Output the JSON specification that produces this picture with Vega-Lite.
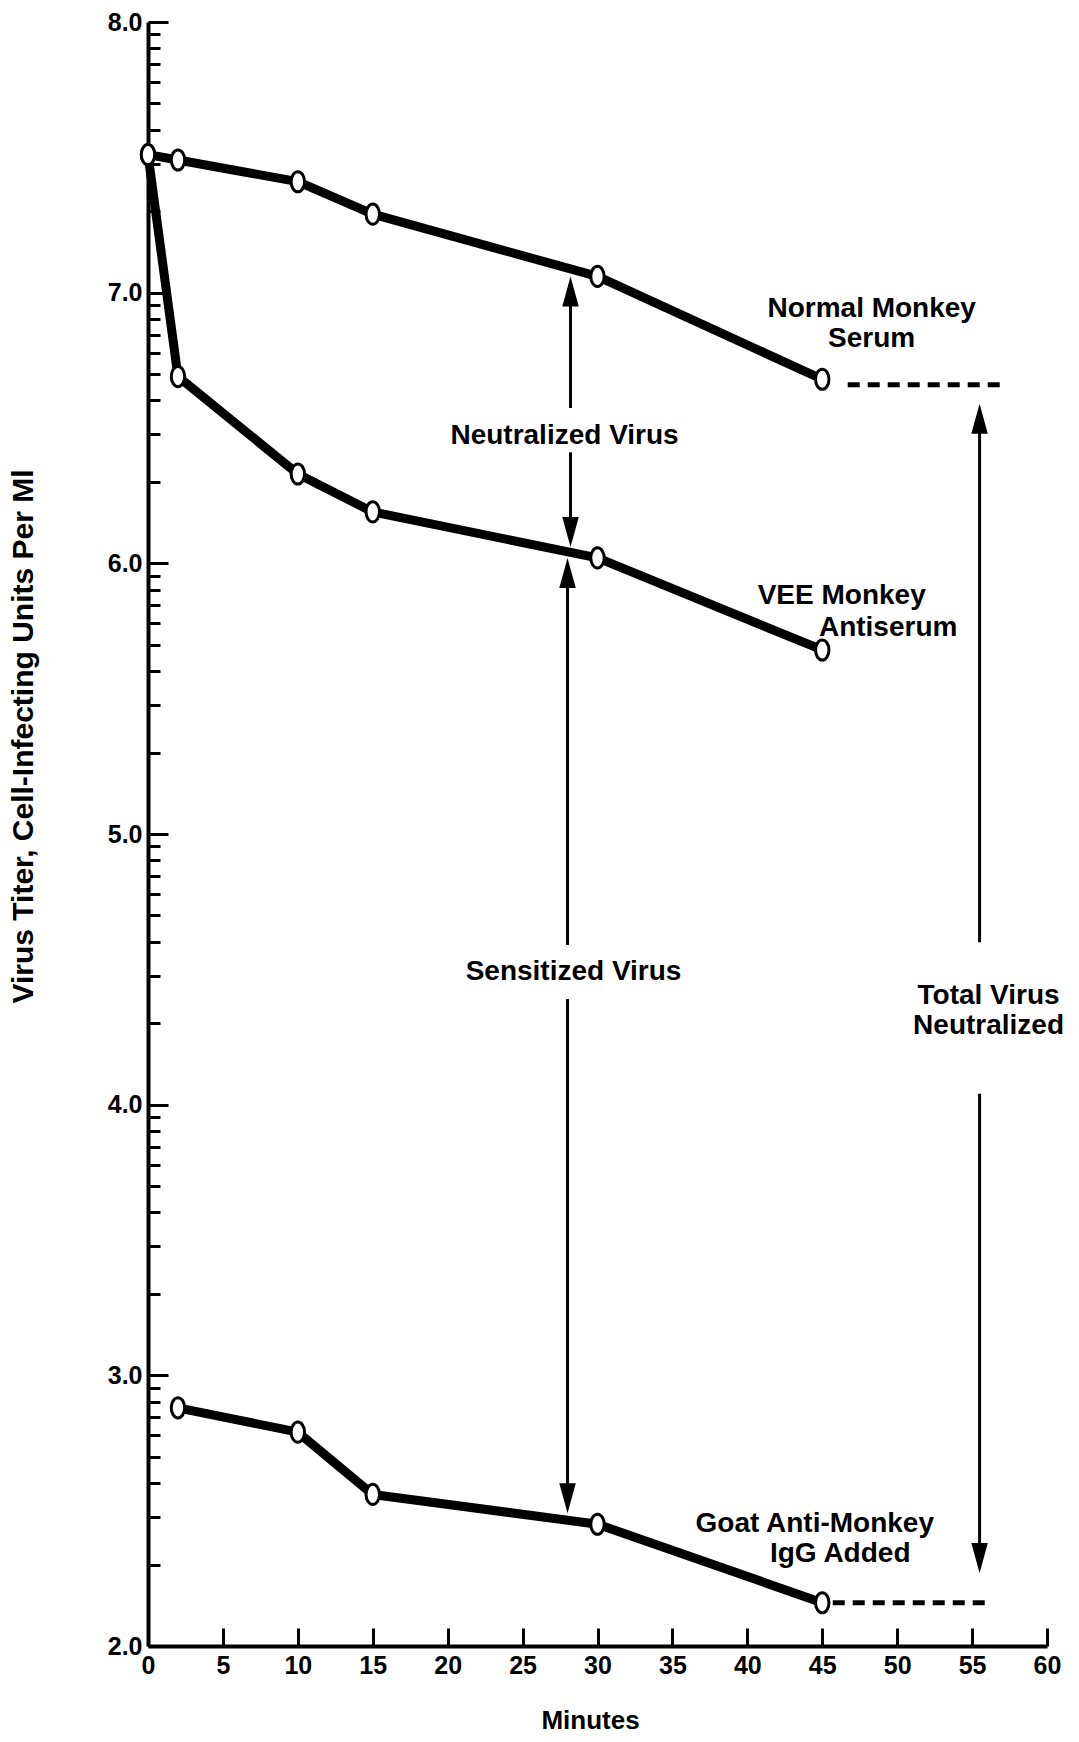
{
  "$schema": "https://vega.github.io/schema/vega-lite/v6.json",
  "autosize": {"type": "none"},
  "padding": {"left": 148, "top": 22, "right": 32, "bottom": 96},
  "width": 899,
  "height": 1624,
  "background": "white",
  "config": {"view": {"stroke": null}},
  "datasets": {
    "series": [
      {"series": "Normal Monkey Serum", "minutes": 0, "titer": 7.51},
      {"series": "Normal Monkey Serum", "minutes": 2, "titer": 7.49},
      {"series": "Normal Monkey Serum", "minutes": 10, "titer": 7.41},
      {"series": "Normal Monkey Serum", "minutes": 15, "titer": 7.29},
      {"series": "Normal Monkey Serum", "minutes": 30, "titer": 7.06},
      {"series": "Normal Monkey Serum", "minutes": 45, "titer": 6.68},
      {"series": "VEE Monkey Antiserum", "minutes": 0, "titer": 7.51},
      {"series": "VEE Monkey Antiserum", "minutes": 2, "titer": 6.69},
      {"series": "VEE Monkey Antiserum", "minutes": 10, "titer": 6.33},
      {"series": "VEE Monkey Antiserum", "minutes": 15, "titer": 6.19},
      {"series": "VEE Monkey Antiserum", "minutes": 30, "titer": 6.02},
      {"series": "VEE Monkey Antiserum", "minutes": 45, "titer": 5.68},
      {"series": "Goat Anti-Monkey IgG Added", "minutes": 2, "titer": 2.88},
      {"series": "Goat Anti-Monkey IgG Added", "minutes": 10, "titer": 2.79},
      {"series": "Goat Anti-Monkey IgG Added", "minutes": 15, "titer": 2.56},
      {"series": "Goat Anti-Monkey IgG Added", "minutes": 30, "titer": 2.45},
      {"series": "Goat Anti-Monkey IgG Added", "minutes": 45, "titer": 2.16}
    ],
    "dashes": [
      {"series": "Normal Monkey Serum", "minutes": 46.7, "titer": 6.66},
      {"series": "Normal Monkey Serum", "minutes": 56.9, "titer": 6.66},
      {"series": "Goat Anti-Monkey IgG Added", "minutes": 45.7, "titer": 2.16},
      {"series": "Goat Anti-Monkey IgG Added", "minutes": 55.9, "titer": 2.16}
    ],
    "arrows": [
      {"minutes": 28.2, "from": 7.03, "to": 6.574},
      {"minutes": 28.2, "from": 6.41, "to": 6.09},
      {"minutes": 28.0, "from": 5.99, "to": 4.59},
      {"minutes": 28.0, "from": 4.39, "to": 2.52},
      {"minutes": 55.5, "from": 6.56, "to": 4.60},
      {"minutes": 55.5, "from": 4.04, "to": 2.30}
    ],
    "heads": [
      {"minutes": 28.2, "titer": 7.06, "dir": "up"},
      {"minutes": 28.2, "titer": 6.06, "dir": "down"},
      {"minutes": 28.0, "titer": 6.02, "dir": "up"},
      {"minutes": 28.0, "titer": 2.49, "dir": "down"},
      {"minutes": 55.5, "titer": 6.59, "dir": "up"},
      {"minutes": 55.5, "titer": 2.27, "dir": "down"}
    ],
    "labels": [
      {"minutes": 27.8, "titer": 6.47, "text": "Neutralized Virus"},
      {"minutes": 28.4, "titer": 4.49, "text": "Sensitized Virus"},
      {"minutes": 48.3, "titer": 6.94, "text": "Normal Monkey"},
      {"minutes": 48.3, "titer": 6.83, "text": "Serum"},
      {"minutes": 46.3, "titer": 5.88, "text": "VEE Monkey"},
      {"minutes": 49.4, "titer": 5.76, "text": "Antiserum"},
      {"minutes": 44.5, "titer": 2.45, "text": "Goat Anti-Monkey"},
      {"minutes": 46.2, "titer": 2.34, "text": "IgG Added"},
      {"minutes": 56.1, "titer": 4.40, "text": "Total Virus"},
      {"minutes": 56.1, "titer": 4.29, "text": "Neutralized"}
    ]
  },
  "encoding": {
    "x": {
      "field": "minutes",
      "type": "quantitative",
      "scale": {"domain": [0, 60], "nice": false, "zero": false},
      "axis": {
        "values": [0, 5, 10, 15, 20, 25, 30, 35, 40, 45, 50, 55, 60],
        "format": "d",
        "grid": false,
        "tickSize": -18,
        "tickWidth": 3,
        "tickColor": "black",
        "domainColor": "black",
        "domainWidth": 4,
        "labelPadding": 25,
        "labelFont": "Liberation Sans",
        "labelFontWeight": "bold",
        "labelFontSize": 25,
        "labelColor": "black",
        "labelFlush": false,
        "labelOverlap": false,
        "labelBound": false,
        "title": "Minutes",
        "titleFont": "Liberation Sans",
        "titleFontWeight": "bold",
        "titleFontSize": 26,
        "titleColor": "black",
        "titleX": 442,
        "titleY": 82,
        "titleAlign": "center",
        "titleBaseline": "alphabetic"
      }
    },
    "y": {
      "field": "titer",
      "type": "quantitative",
      "scale": {"domain": [2, 8], "nice": false, "zero": false},
      "axis": {
        "values": [2, 2.30103, 2.47712, 2.60206, 2.69897, 2.77815, 2.8451, 2.90309, 2.95424,
                   3, 3.30103, 3.47712, 3.60206, 3.69897, 3.77815, 3.8451, 3.90309, 3.95424,
                   4, 4.30103, 4.47712, 4.60206, 4.69897, 4.77815, 4.8451, 4.90309, 4.95424,
                   5, 5.30103, 5.47712, 5.60206, 5.69897, 5.77815, 5.8451, 5.90309, 5.95424,
                   6, 6.30103, 6.47712, 6.60206, 6.69897, 6.77815, 6.8451, 6.90309, 6.95424,
                   7, 7.30103, 7.47712, 7.60206, 7.69897, 7.77815, 7.8451, 7.90309, 7.95424, 8],
        "labelExpr": "datum.value % 1 === 0 ? format(datum.value, '.1f') : ''",
        "grid": false,
        "tickSize": {"condition": {"test": "datum.value % 1 === 0", "value": -20}, "value": -12},
        "tickWidth": 3,
        "tickColor": "black",
        "domainColor": "black",
        "domainWidth": 4,
        "labelPadding": 26,
        "labelFont": "Liberation Sans",
        "labelFontWeight": "bold",
        "labelFontSize": 25,
        "labelColor": "black",
        "labelFlush": false,
        "labelOverlap": false,
        "labelBound": false,
        "title": "Virus Titer, Cell-Infecting Units Per Ml",
        "titleFont": "Liberation Sans",
        "titleFontWeight": "bold",
        "titleFontSize": 30,
        "titleColor": "black",
        "titleAngle": -90,
        "titleX": -125,
        "titleY": 714,
        "titleAlign": "center",
        "titleBaseline": "middle"
      }
    }
  },
  "layer": [
    {
      "data": {"name": "series"},
      "mark": {"type": "line", "color": "black", "strokeWidth": 9, "strokeCap": "butt", "strokeJoin": "round"},
      "encoding": {"detail": {"field": "series"}}
    },
    {
      "data": {"name": "dashes"},
      "mark": {"type": "line", "color": "black", "strokeWidth": 5, "strokeDash": [12, 8]},
      "encoding": {"detail": {"field": "series"}}
    },
    {
      "data": {"name": "arrows"},
      "mark": {"type": "rule", "color": "black", "strokeWidth": 3},
      "encoding": {
        "y": {"field": "from", "type": "quantitative"},
        "y2": {"field": "to"}
      }
    },
    {
      "data": {"name": "heads"},
      "transform": [{"filter": "datum.dir === 'up'"}],
      "mark": {"type": "point", "shape": "M0,0L-0.55,2L0.55,2Z", "filled": true, "color": "black", "opacity": 1, "size": 900}
    },
    {
      "data": {"name": "heads"},
      "transform": [{"filter": "datum.dir === 'down'"}],
      "mark": {"type": "point", "shape": "M0,0L-0.55,-2L0.55,-2Z", "filled": true, "color": "black", "opacity": 1, "size": 900}
    },
    {
      "data": {"name": "series"},
      "mark": {"type": "point", "shape": "M0,-1.5A1,1.5,0,1,1,0,1.5A1,1.5,0,1,1,0,-1.5Z", "filled": false, "fill": "white", "stroke": "black", "strokeWidth": 3, "opacity": 1, "size": 180}
    },
    {
      "data": {"name": "labels"},
      "mark": {"type": "text", "font": "Liberation Sans", "fontWeight": "bold", "fontSize": 28, "color": "black", "align": "center", "baseline": "middle"},
      "encoding": {"text": {"field": "text"}}
    }
  ]
}
